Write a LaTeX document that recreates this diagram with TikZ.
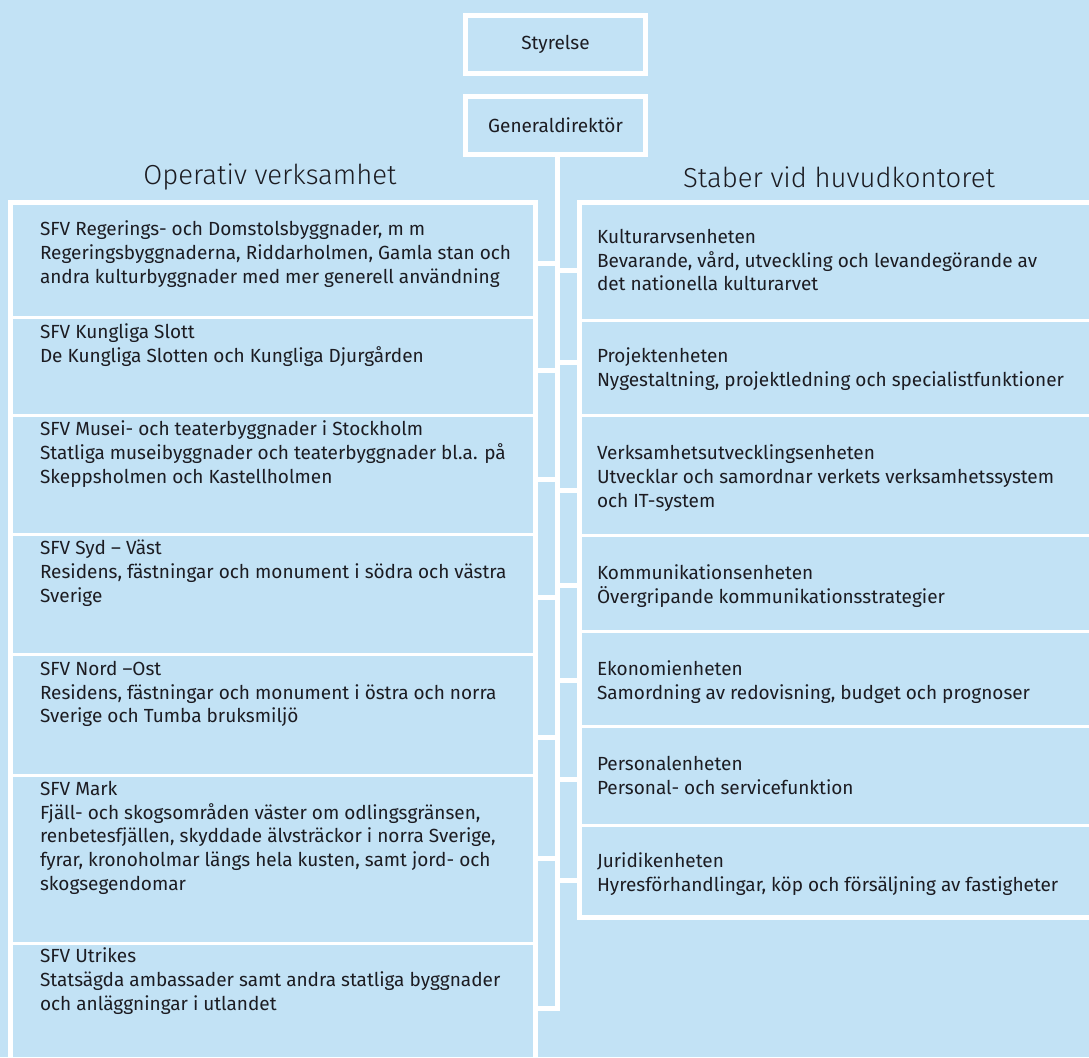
\documentclass[tikz,border=0pt]{standalone}
\usepackage{fontspec}
\setmainfont{Fira Sans}
\newfontfamily\headfont{Fira Sans Light}
\definecolor{bg}{RGB}{194,226,245}
\definecolor{ink}{RGB}{28,28,34}
\begin{document}
\begin{tikzpicture}[x=1pt,y=-1pt,
  topbox/.style={draw=white, line width=5pt, fill=bg, minimum width=180pt, minimum height=58pt, inner sep=0pt, outer sep=0pt, font=\fontsize{19}{22}\selectfont, text=ink},
  cell/.style={draw=white, line width=3pt, inner sep=0pt, outer sep=0pt, anchor=north west},
  txt/.style={anchor=north west, inner sep=0pt, outer sep=0pt, align=left, font=\fontsize{19}{23.8}\selectfont, text=ink},
  head/.style={font=\headfont\fontsize{27.5}{32}\selectfont, text=ink, inner sep=0pt},
  wire/.style={draw=white, line width=5pt, line join=miter}]
\fill[bg] (0,0) rectangle (1089,1057);
\useasboundingbox (0,0) rectangle (1089,1057);

% top boxes
\node[topbox] (S) at (555.5,44.5) {Styrelse};
\node[topbox] (G) at (555.5,125.5) {Generaldirektör};

% headers
\node[head] (H1) at (270,177) {Operativ verksamhet};
\node[head] (H2) at (839,177) {Staber vid huvudkontoret};

% left cells
\node[cell, minimum width=525pt, minimum height=114.5pt] (L1) at (10.5,202.5) {};
\node[cell, minimum width=525pt, minimum height=98pt]  (L2) at (10.5,317) {};
\node[cell, minimum width=525pt, minimum height=119pt] (L3) at (10.5,415) {};
\node[cell, minimum width=525pt, minimum height=120pt] (L4) at (10.5,534) {};
\node[cell, minimum width=525pt, minimum height=121pt] (L5) at (10.5,654) {};
\node[cell, minimum width=525pt, minimum height=168pt] (L6) at (10.5,775) {};
\node[cell, minimum width=525pt, minimum height=140pt] (L7) at (10.5,943) {};
\draw[white, line width=5pt] (L1.north west) rectangle (L7.south east);

% right cells
\node[cell, minimum width=521pt, minimum height=117.5pt] (R1) at (579,202.5) {};
\node[cell, minimum width=521pt, minimum height=95pt]  (R2) at (579,320) {};
\node[cell, minimum width=521pt, minimum height=120pt] (R3) at (579,415) {};
\node[cell, minimum width=521pt, minimum height=96.5pt] (R4) at (579,535) {};
\node[cell, minimum width=521pt, minimum height=95pt]  (R5) at (579,631.5) {};
\node[cell, minimum width=521pt, minimum height=98.5pt] (R6) at (579,726.5) {};
\node[cell, minimum width=521pt, minimum height=92pt]  (R7) at (579,825) {};
\draw[white, line width=5pt] (R1.north west) rectangle (R7.south east);

% spine and stubs
\coordinate (sp0) at (557.5,154.5);
\coordinate (spE) at (557.5,1008);
\draw[wire] (sp0) -- (spE) -- (spE -| L7.east);
\foreach \y [count=\i] in {263,370,479,597,737,858} {
  \coordinate (sl\i) at (557.5,\y);
  \draw[wire] (sl\i) -- (sl\i -| L1.east);
}
\foreach \y [count=\i] in {270,362,490,585,680,779,880} {
  \coordinate (sr\i) at (557.5,\y);
  \draw[wire] (sr\i) -- (sr\i -| R1.west);
}

% left texts
\node[txt] (L1t) at (40,221) {SFV Regerings- och Domstolsbyggnader, m m\\Regeringsbyggnaderna, Riddarholmen, Gamla stan och\\andra kulturbyggnader med mer generell användning};
\node[txt] (L2t) at (40,324) {SFV Kungliga Slott\\De Kungliga Slotten och Kungliga Djurgården};
\node[txt] (L3t) at (40,421) {SFV Musei- och teaterbyggnader i Stockholm\\Statliga museibyggnader och teaterbyggnader bl.a. på\\Skeppsholmen och Kastellholmen};
\node[txt] (L4t) at (40,540) {SFV Syd – Väst\\Residens, fästningar och monument i södra och västra\\Sverige};
\node[txt] (L5t) at (40,661) {SFV Nord –Ost\\Residens, fästningar och monument i östra och norra\\Sverige och Tumba bruksmiljö};
\node[txt] (L6t) at (40,781) {SFV Mark\\Fjäll- och skogsområden väster om odlingsgränsen,\\renbetesfjällen, skyddade älvsträckor i norra Sverige,\\fyrar, kronoholmar längs hela kusten, samt jord- och\\skogsegendomar};
\node[txt] (L7t) at (40,948) {SFV Utrikes\\Statsägda ambassader samt andra statliga byggnader\\och anläggningar i utlandet};

% right texts
\node[txt] (R1t) at (597,229) {Kulturarvsenheten\\Bevarande, vård, utveckling och levandegörande av\\det nationella kulturarvet};
\node[txt] (R2t) at (597,348) {Projektenheten\\Nygestaltning, projektledning och specialistfunktioner};
\node[txt] (R3t) at (597,445) {Verksamhetsutvecklingsenheten\\Utvecklar och samordnar verkets verksamhetssystem\\och IT-system};
\node[txt] (R4t) at (597,565) {Kommunikationsenheten\\Övergripande kommunikationsstrategier};
\node[txt] (R5t) at (597,661) {Ekonomienheten\\Samordning av redovisning, budget och prognoser};
\node[txt] (R6t) at (597,756) {Personalenheten\\Personal- och servicefunktion};
\node[txt] (R7t) at (597,853) {Juridikenheten\\Hyresförhandlingar, köp och försäljning av fastigheter};
\end{tikzpicture}
\end{document}
